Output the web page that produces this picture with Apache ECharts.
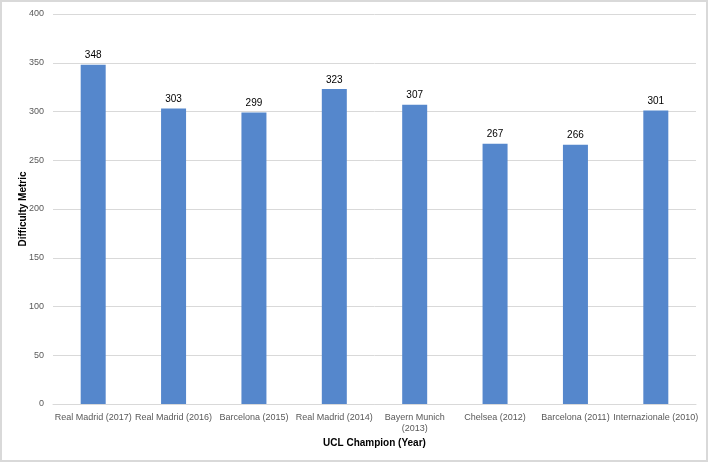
<!DOCTYPE html>
<html>
<head>
<meta charset="utf-8">
<script src="https://cdn.jsdelivr.net/npm/echarts@6/dist/echarts.min.js"></script>
<style>
html,body{margin:0;padding:0;background:#fff;}
#c{width:710px;height:463px;}
</style>
</head>
<body>
<div id="c"></div>
<script>
const categories = ["Real Madrid (2017)", "Real Madrid (2016)", "Barcelona (2015)", "Real Madrid (2014)", "Bayern Munich\n(2013)", "Chelsea (2012)", "Barcelona (2011)", "Internazionale (2010)"];
const values = [348, 303, 299, 323, 307, 267, 266, 301];
const yTicks = [0, 50, 100, 150, 200, 250, 300, 350, 400];

const chart = echarts.init(document.getElementById('c'), null, {renderer: 'canvas'});
const font = '"Liberation Sans", Arial, sans-serif';
chart.setOption({
  animation: false,
  textStyle: {fontFamily: font},
  graphic: [{
    type: 'rect',
    shape: {x: 1, y: 1, width: 706, height: 460},
    style: {fill: 'none', stroke: '#d9d9d9', lineWidth: 2},
    silent: true
  }],
  grid: {left: 53, right: 14, top: 14, bottom: 59, containLabel: false},
  xAxis: {
    type: 'category',
    data: categories,
    name: 'UCL Champion (Year)',
    nameLocation: 'middle',
    nameGap: 34,
    nameMoveOverlap: false,
    nameTextStyle: {fontFamily: font, fontSize: 10, fontWeight: 'bold', color: '#000'},
    axisLine: {lineStyle: {color: '#d9d9d9', width: 1}},
    axisTick: {show: false},
    axisLabel: {fontFamily: font, fontSize: 9, color: '#595959', margin: 8, interval: 0, lineHeight: 11}
  },
  yAxis: {
    type: 'value',
    min: yTicks[0],
    max: yTicks[yTicks.length - 1],
    interval: 50,
    name: 'Difficulty Metric',
    nameLocation: 'middle',
    nameGap: 25,
    nameMoveOverlap: false,
    nameRotate: 90,
    nameTextStyle: {fontFamily: font, fontSize: 10, fontWeight: 'bold', color: '#000'},
    axisLine: {show: false},
    axisTick: {show: false},
    axisLabel: {fontFamily: font, fontSize: 9, color: '#595959', margin: 9},
    splitLine: {lineStyle: {color: '#d9d9d9', width: 1}}
  },
  series: [{
    type: 'bar',
    data: values,
    barWidth: 25,
    itemStyle: {color: '#5587cc'},
    label: {show: true, position: 'top', distance: 4, fontFamily: font, fontSize: 10, color: '#000'}
  }]
});
</script>
</body>
</html>
